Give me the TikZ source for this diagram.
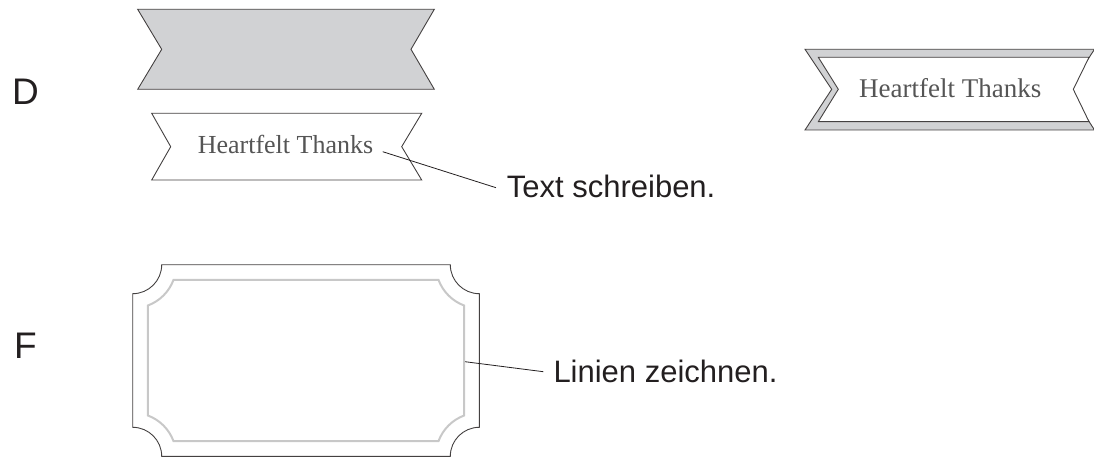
\documentclass[tikz,border=0pt]{standalone}
\usepackage{fontspec}
\setmainfont{Liberation Serif}
\setsansfont{Liberation Sans}
\definecolor{bandgray}{HTML}{D1D2D4}
\definecolor{framegray}{HTML}{C8C8C8}
\definecolor{ink}{HTML}{231F20}
\definecolor{txtgray}{HTML}{555555}
\tikzset{
  outline/.style={draw=ink!85, line width=0.9pt, line join=miter},
  leader/.style={draw=ink, line width=0.8pt},
  callout/.style={font=\sffamily\fontsize{31}{36}\selectfont, text=ink, inner sep=0pt, anchor=base west},
  rowlabel/.style={font=\sffamily\fontsize{37}{42}\selectfont, text=ink, inner sep=0pt, anchor=base west},
  bannertext/.style={font=\fontsize{26}{30}\selectfont, text=txtgray, inner sep=0pt, anchor=base},
}
\begin{document}
\begin{tikzpicture}[x=1pt,y=-1pt]
\useasboundingbox (0,0) rectangle (1094,457);
\begin{scope}
\clip (0,0) rectangle (1094,457);
% row labels
\node[rowlabel] (labD) at (12,105) {D};
\node[rowlabel] (labF) at (14,358) {F};

% grey banner
\path[outline, fill=bandgray] (137.7,9.3) -- (434.3,9.3) -- (411,49.3) -- (434.3,89.3)
  -- (137.7,89.3) -- (161.7,49.3) -- cycle;

% white banner with text
\path[outline, fill=white] (151.7,113.3) -- (421.7,113.3) -- (401.7,146.7) -- (421.7,180)
  -- (151.7,180) -- (170.7,146.7) -- cycle;
\node[bannertext] (ht1) at (285.5,154) {Heartfelt Thanks};
\coordinate (ht1end) at (382.7,151.7);
\node[callout] (txt) at (506.7,197) {Text schreiben.};
\draw[leader] (ht1end) -- ([xshift=-10.7pt,yshift=9.3pt]txt.base west);

% right banner (double)
\path[outline, fill=bandgray] (805,49.3) -- (1094.5,49.3) -- (1068.3,89.3) -- (1094.5,130)
  -- (805,130) -- (831.7,89.3) -- cycle;
\path[outline, fill=white] (818.3,57.3) -- (1089,57.3) -- (1073.3,89.3) -- (1089,121.7)
  -- (818.3,121.7) -- (838.3,89.3) -- cycle;
\node[bannertext, font=\fontsize{27}{31}\selectfont] (ht2) at (950.3,97.3) {Heartfelt Thanks};

% frame with concave corners
\def\fl{132.7}\def\fr{479.3}\def\ft{264.7}\def\fb{456.3}
\def\k{16.0}
\path[outline]
  (\fl+29,\ft) -- (\fr-29,\ft)
  .. controls (\fr-29,\ft+\k) and (\fr-\k,\ft+29) .. (\fr,\ft+29)
  -- (\fr,\fb-29)
  .. controls (\fr-\k,\fb-29) and (\fr-29,\fb-\k) .. (\fr-29,\fb)
  -- (\fl+29,\fb)
  .. controls (\fl+29,\fb-\k) and (\fl+\k,\fb-29) .. (\fl,\fb-29)
  -- (\fl,\ft+29)
  .. controls (\fl+\k,\ft+29) and (\fl+29,\ft+\k) .. cycle;
\def\a{40.8}\def\b{15.2}\def\ca{36.39}\def\cb{27.04}
\path[draw=framegray, line width=2pt, line join=miter]
  (\fl+\a,\ft+\b) -- (\fr-\a,\ft+\b)
  .. controls (\fr-\ca,\ft+\cb) and (\fr-\cb,\ft+\ca) .. (\fr-\b,\ft+\a)
  -- (\fr-\b,\fb-\a)
  .. controls (\fr-\cb,\fb-\ca) and (\fr-\ca,\fb-\cb) .. (\fr-\a,\fb-\b)
  -- (\fl+\a,\fb-\b)
  .. controls (\fl+\ca,\fb-\cb) and (\fl+\cb,\fb-\ca) .. (\fl+\b,\fb-\a)
  -- (\fl+\b,\ft+\a)
  .. controls (\fl+\cb,\ft+\ca) and (\fl+\ca,\ft+\cb) .. cycle;
\coordinate (frameedge) at (465,361.7);
\node[callout] (lin) at (553.3,382.3) {Linien zeichnen.};
\draw[leader] (frameedge) -- ([xshift=-10pt,yshift=10.6pt]lin.base west);
\end{scope}
\end{tikzpicture}
\end{document}
